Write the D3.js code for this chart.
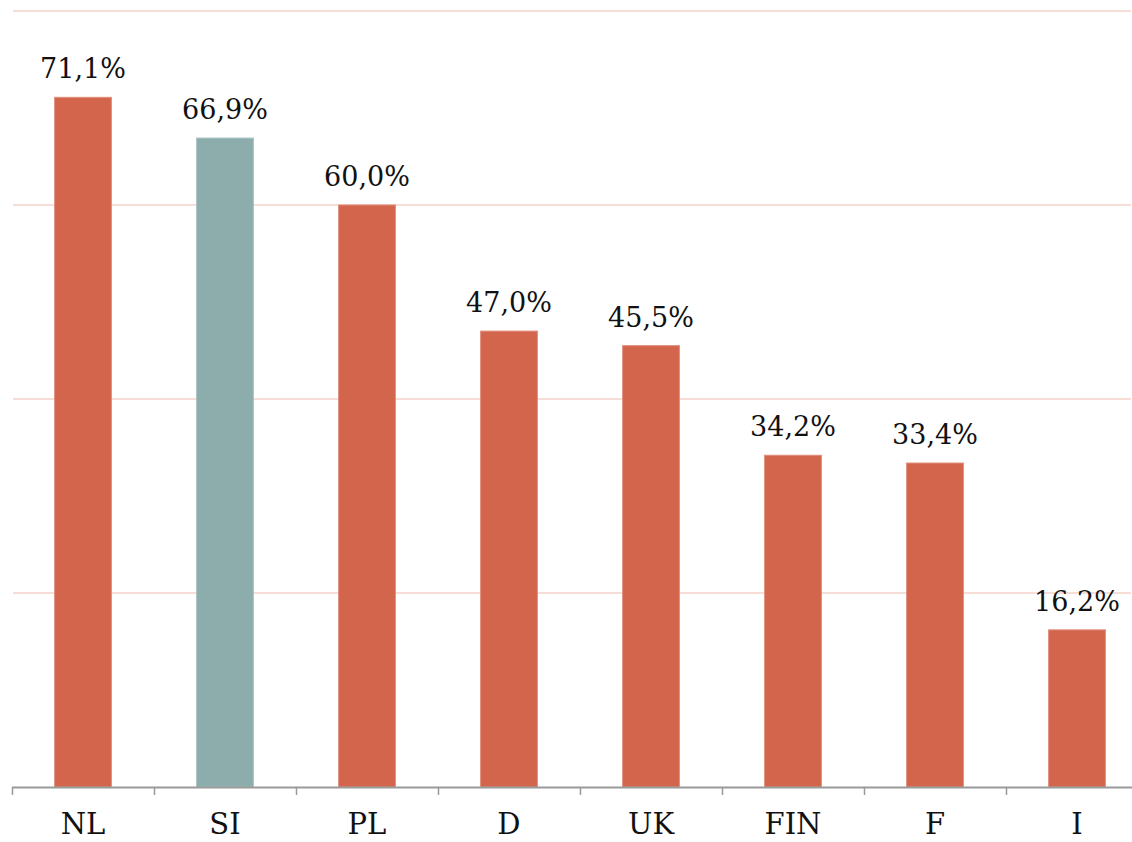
<!DOCTYPE html>
<html>
<head>
<meta charset="utf-8">
<script src="https://cdn.jsdelivr.net/npm/d3@7"></script>
<style>
  html, body { margin: 0; padding: 0; background: #fff; }
  svg { display: block; }
</style>
</head>
<body>
<svg id="chart" width="1132" height="842"></svg>
<script>
const categories = ["NL", "SI", "PL", "D", "UK", "FIN", "F", "I"];
const values = [71.1, 66.9, 60.0, 47.0, 45.5, 34.2, 33.4, 16.2];
const highlighted = ["SI"];
const gridValues = [20, 40, 60, 80];

(function () {
const svg = d3.select("#chart");
const W = 1132, H = 842;
const mLeft = 12, mRight = 1148, mTop = 11, mBottom = 787;
const font = "'DejaVu Serif', Georgia, serif";

const x = d3.scaleBand().domain(categories).range([mLeft, mRight])
  .paddingInner(0.6).paddingOuter(0.3);
const y = d3.scaleLinear().domain([0, 80]).range([mBottom, mTop]);

// grid lines
svg.append("g").selectAll("line").data(gridValues).join("line")
  .attr("x1", mLeft + 1).attr("x2", W - 1)
  .attr("y1", d => y(d)).attr("y2", d => y(d))
  .attr("stroke", "#f6ddd7").attr("stroke-width", 2);

// bars
svg.append("g").selectAll("rect").data(categories).join("rect")
  .attr("x", d => x(d))
  .attr("width", x.bandwidth())
  .attr("y", (d, i) => y(values[i]))
  .attr("height", (d, i) => y(0) - y(values[i]))
  .attr("fill", d => highlighted.includes(d) ? "#8dadad" : "#d2654b")
  .attr("stroke", d => highlighted.includes(d) ? "#a9c2c2" : "#e08e7b")
  .attr("stroke-width", 1);

// value labels
const fmt = v => d3.format(".1f")(v).replace(".", ",") + "%";
svg.append("g").selectAll("text").data(categories).join("text")
  .attr("x", d => x(d) + x.bandwidth() / 2)
  .attr("y", (d, i) => y(values[i]) - 19)
  .attr("text-anchor", "middle")
  .attr("font-family", font)
  .attr("font-size", 27)
  .attr("fill", "#111")
  .text((d, i) => fmt(values[i]));

// x axis
const gap = (x.step() - x.bandwidth()) / 2;
const axis = svg.append("g");
axis.append("line")
  .attr("x1", mLeft).attr("x2", W)
  .attr("y1", mBottom + 0.5).attr("y2", mBottom + 0.5)
  .attr("stroke", "#999").attr("stroke-width", 2);
const boundaries = categories.map(c => x(c) - gap).concat([x(categories[categories.length - 1]) + x.bandwidth() + gap]);
axis.selectAll(".tick").data(boundaries).join("line")
  .attr("class", "tick")
  .attr("x1", d => Math.round(d) + 0.5).attr("x2", d => Math.round(d) + 0.5)
  .attr("y1", mBottom).attr("y2", mBottom + 8)
  .attr("stroke", "#999").attr("stroke-width", 1.5);
axis.selectAll("text").data(categories).join("text")
  .attr("x", d => x(d) + x.bandwidth() / 2)
  .attr("y", 834)
  .attr("text-anchor", "middle")
  .attr("font-family", font)
  .attr("font-size", 29)
  .attr("fill", "#111")
  .text(d => d);
})();
</script>
</body>
</html>
